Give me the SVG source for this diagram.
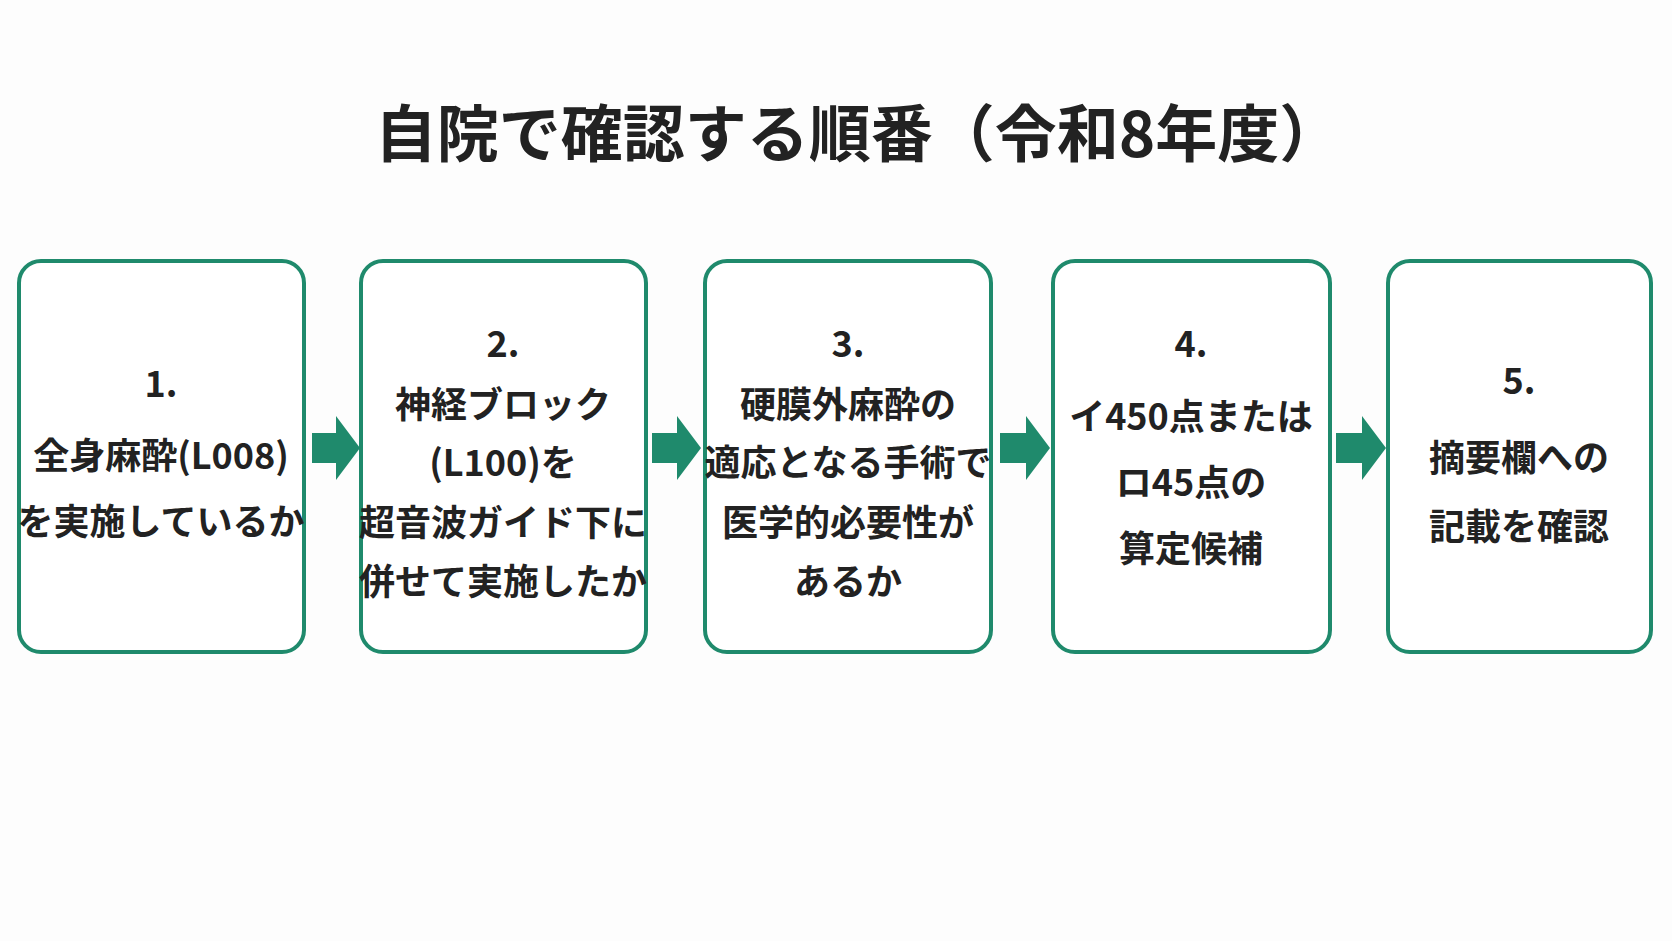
<svg xmlns="http://www.w3.org/2000/svg" width="1672" height="941" viewBox="0 0 1672 941">
<style>
.box{fill:#fff;stroke:#1f8a6c;stroke-width:4}
text{font-family:"Noto Sans CJK JP","Noto Sans",sans-serif;font-weight:bold;fill:#222;text-anchor:middle;dominant-baseline:central}
.t{font-size:36px}
.title{font-size:62px}
.arr{fill:#1f8a6c}
</style>
<rect width="1672" height="941" fill="#fdfdfd"/>
<text class="title" x="858" y="130">自院で確認する順番（令和8年度）</text>
<g id="n1"><rect class="box" x="19" y="261" width="285" height="391" rx="22"/>
<text class="t" x="161" y="381">1.</text><text class="t" x="161" y="453">全身麻酔(L008)</text><text class="t" x="161" y="519">を実施しているか</text></g>
<g id="n2"><rect class="box" x="361" y="261" width="285" height="391" rx="22"/>
<text class="t" x="503" y="341">2.</text><text class="t" x="503" y="402">神経ブロック</text><text class="t" x="503" y="460">(L100)を</text><text class="t" x="503" y="520">超音波ガイド下に</text><text class="t" x="503" y="579">併せて実施したか</text></g>
<g id="n3"><rect class="box" x="705" y="261" width="286" height="391" rx="22"/>
<text class="t" x="848" y="341">3.</text><text class="t" x="848" y="402">硬膜外麻酔の</text><text class="t" x="848" y="460">適応となる手術で</text><text class="t" x="848" y="520">医学的必要性が</text><text class="t" x="848" y="579">あるか</text></g>
<g id="n4"><rect class="box" x="1053" y="261" width="277" height="391" rx="22"/>
<text class="t" x="1191" y="341">4.</text><text class="t" x="1191" y="414">イ450点または</text><text class="t" x="1191" y="480">ロ45点の</text><text class="t" x="1191" y="546">算定候補</text></g>
<g id="n5"><rect class="box" x="1388" y="261" width="263" height="391" rx="22"/>
<text class="t" x="1519" y="378">5.</text><text class="t" x="1519" y="455">摘要欄への</text><text class="t" x="1519" y="524">記載を確認</text></g>
<g id="connectors">
<polygon class="arr" points="312,433 336,433 336,416 360,448 336,480 336,463 312,463"/>
<polygon class="arr" points="652,433 677,433 677,416 701,448 677,480 677,463 652,463"/>
<polygon class="arr" points="1000,433 1026,433 1026,416 1050,448 1026,480 1026,463 1000,463"/>
<polygon class="arr" points="1336,433 1362,433 1362,416 1386,448 1362,480 1362,463 1336,463"/>
</g>
</svg>
